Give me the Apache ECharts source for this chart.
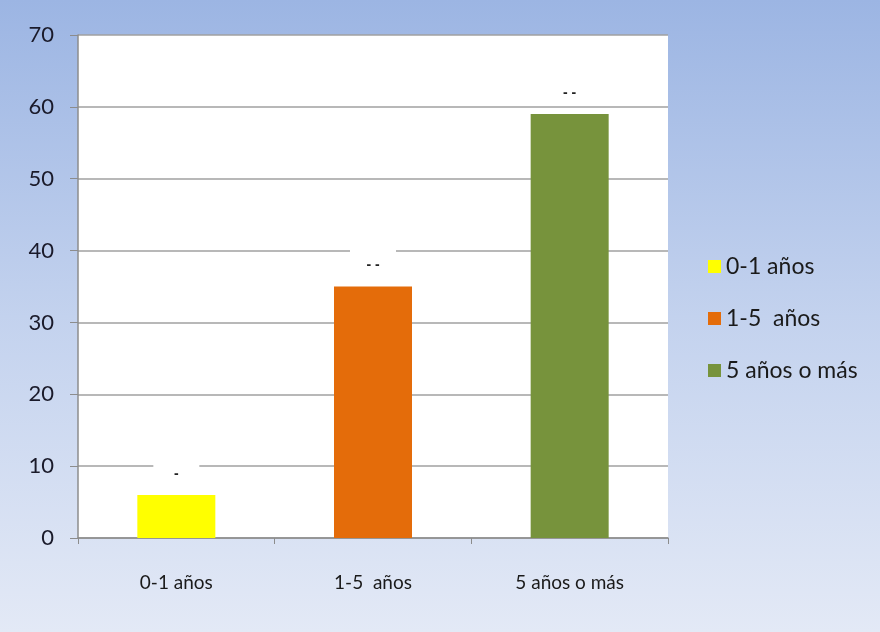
<!DOCTYPE html>
<html><head><meta charset="utf-8">
<script src="https://cdn.jsdelivr.net/npm/echarts@6/dist/echarts.min.js"></script>
<style>html,body{margin:0;padding:0;}#c{width:880px;height:632px;}</style>
</head><body><div id="c"></div>
<script>
const categories = ['0-1 años', '1-5  años', '5 años o más'];
const seriesNames = ['0-1 años', '1-5  años', '5 años o más'];
const values = [6, 35, 59];
const labelTexts = ['-', '- -', '- -'];
const colors = ['#ffff00', '#e46c0a', '#77933c'];
const yTicks = { min: 0, max: 70, interval: 10 };

const font = 'Lato, "Open Sans", sans-serif';
const series = seriesNames.map((name, i) => ({
  name: name,
  type: 'bar',
  barWidth: 78,
  barGap: '-100%',
  itemStyle: { color: colors[i] },
  label: {
    show: true, position: 'top', distance: 8,
    formatter: () => labelTexts[i],
    backgroundColor: '#ffffff',
    color: '#222', fontSize: 14, fontWeight: 'bold',
    width: 22, align: 'center',
    padding: [10, 12, 6, 12]
  },
  data: categories.map((c, j) => j === i ? values[j] : null)
}));

const chart = echarts.init(document.getElementById('c'));
chart.setOption({
  animation: false,
  backgroundColor: {
    type: 'linear', x: 0, y: 0, x2: 0, y2: 1,
    colorStops: [{ offset: 0, color: '#9cb5e3' }, { offset: 0.5, color: '#c3d2ee' }, { offset: 1, color: '#e3e9f6' }]
  },
  grid: { left: 78, right: 212, top: 35, bottom: 94, show: true, backgroundColor: '#ffffff', borderWidth: 0 },
  legend: {
    orient: 'vertical', left: 703, top: 250, itemGap: 29,
    itemWidth: 13, itemHeight: 13, icon: 'rect',
    textStyle: { fontSize: 23, lineHeight: 20, color: '#1a1a1a', fontFamily: font, padding: [0, 0, 0, 0] },
    data: seriesNames
  },
  xAxis: {
    type: 'category', data: categories,
    axisLine: { lineStyle: { color: '#8c8c8c', width: 1.5 } },
    axisTick: { show: true, alignWithLabel: false, length: 6, lineStyle: { color: '#8c8c8c' } },
    axisLabel: { fontSize: 19, color: '#1a1a1a', fontFamily: font, margin: 35 }
  },
  yAxis: {
    type: 'value', min: yTicks.min, max: yTicks.max, interval: yTicks.interval,
    axisLine: { show: true, lineStyle: { color: '#8c8c8c', width: 1.5 } },
    axisTick: { show: true, length: 8, lineStyle: { color: '#8c8c8c' } },
    splitLine: { lineStyle: { color: '#a0a0a0', width: 1.5 } },
    axisLabel: { fontSize: 22, color: '#1a1a2a', fontFamily: font, margin: 24 }
  },
  series: series
});
</script></body></html>
